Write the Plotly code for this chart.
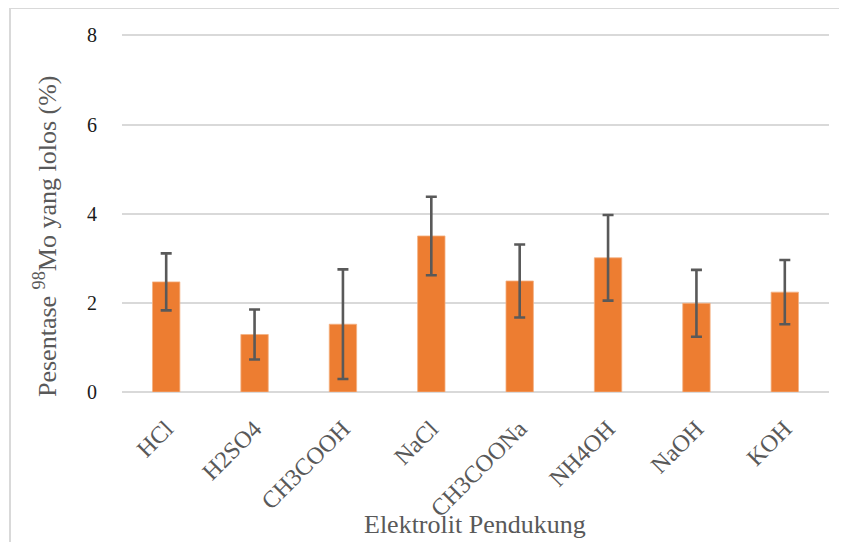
import plotly.graph_objects as go

categories = ["HCl", "H2SO4", "CH3COOH", "NaCl", "CH3COONa", "NH4OH", "NaOH", "KOH"]
values = [2.47, 1.29, 1.52, 3.50, 2.49, 3.01, 1.99, 2.24]
errors = [0.64, 0.56, 1.23, 0.88, 0.82, 0.96, 0.75, 0.72]
y_ticks = [0, 2, 4, 6, 8]

# page body has an 8px default margin; compensate so the plot lands where the reference is
OFF = 8
W, H = 847, 542
L, R, T, B = 122 - OFF, 18 + OFF, 34 - OFF, 150 + OFF
pw, ph = W - L - R, H - T - B

def px(x):
    return (x - OFF - L) / pw

def py(y):
    return (H - B - (y - OFF)) / ph

fig = go.Figure()
fig.add_trace(go.Bar(
    x=categories, y=values,
    marker=dict(color="#ED7D31", line=dict(color="#F4B183", width=0.8)),
    error_y=dict(type="data", array=errors, visible=True,
                 color="#595959", thickness=2.6, width=5.5),
))

serif = "Liberation Serif, Times New Roman, serif"
fig.update_layout(
    width=W, height=H,
    margin=dict(l=L, r=R, t=T, b=B, autoexpand=False),
    paper_bgcolor="white", plot_bgcolor="white",
    bargap=0.69,
    showlegend=False,
    font=dict(family=serif, color="#595959"),
    xaxis=dict(
        tickangle=-45, tickfont=dict(size=24, color="#595959", family=serif),
        showgrid=False, showline=False, ticks="",
        ticklabelstandoff=17,
    ),
    yaxis=dict(
        range=[0, 8.03], tickvals=y_ticks,
        tickfont=dict(size=20, color="#1a1a1a", family=serif),
        showgrid=True, gridcolor="#D9D9D9", gridwidth=1.5,
        zeroline=True, zerolinecolor="#D9D9D9", zerolinewidth=1.5,
        showline=False, ticks="", ticklabelstandoff=24,
    ),
    annotations=[
        dict(text="Pesentase <sup>98</sup>Mo yang lolos (%)", xref="paper", yref="paper",
             x=px(46), y=py(237), textangle=-90, showarrow=False,
             font=dict(size=26, color="#595959", family=serif),
             xanchor="center", yanchor="middle"),
        dict(text="Elektrolit Pendukung", xref="paper", yref="paper",
             x=px(475), y=py(524), showarrow=False,
             font=dict(size=26, color="#595959", family=serif),
             xanchor="center", yanchor="middle"),
    ],
    shapes=[
        dict(type="path", xref="paper", yref="paper",
             path=f"M {px(10)} {py(560)} L {px(10)} {py(8)} L {px(870)} {py(8)}",
             line=dict(color="#D9D9D9", width=2)),
    ],
)

fig.write_html("out.html")
